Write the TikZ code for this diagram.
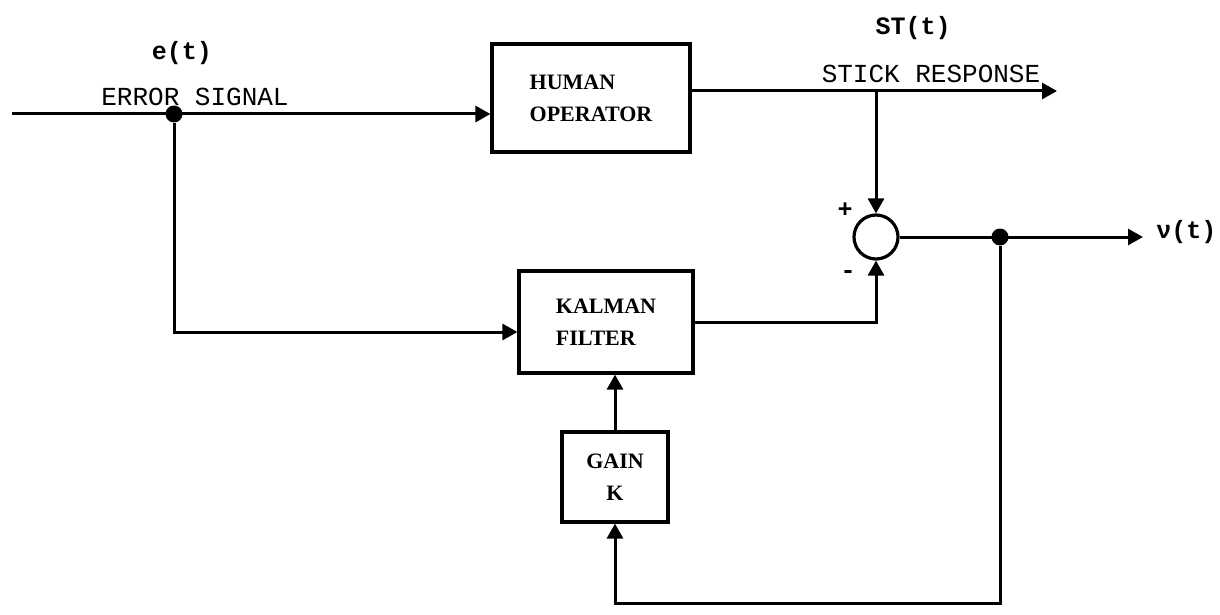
\documentclass[tikz,border=0pt]{standalone}
\usepackage{fontspec}
\setmainfont{Liberation Serif}
\newfontfamily\typefont{Liberation Mono}
\usetikzlibrary{arrows.meta}
\begin{document}
\begin{tikzpicture}[x=0.5pt,y=-0.5pt,
    sig/.style={line width=1.5pt},
    arr/.style={sig,-{Triangle[length=7.5pt,width=8pt]}},
    block/.style={draw,line width=1.6pt,inner sep=0pt,align=left,
        font=\bfseries\fontsize{11}{16}\selectfont},
    dot/.style={circle,fill,inner sep=0pt,minimum size=8.5pt},
    lbl/.style={font=\typefont\fontsize{13}{15}\selectfont,inner sep=0pt},
    var/.style={font=\typefont\bfseries\fontsize{12.5}{14}\selectfont,inner sep=0pt}]
\useasboundingbox (0,0) rectangle (1220,615);
\node[block,minimum width=99pt,minimum height=54pt] (human) at (591,98) {HUMAN\\OPERATOR};
\node[block,minimum width=87pt,minimum height=51pt] (kalman) at (606,322) {KALMAN\\FILTER};
\node[block,align=center,minimum width=53pt,minimum height=45pt] (gain) at (615,477) {GAIN\\K};
\node[circle,draw,line width=1.6pt,inner sep=0pt,minimum size=22pt] (sum) at (876,237) {};
\foreach \n/\p in {edot/{174,114},vdot/{1000,237}}
    \node[dot] (\n) at (\p) {};
\coordinate (in) at (12,114);
\coordinate (stk) at (876,91);
\coordinate (stkend) at (1057,91);
\coordinate (vend) at (1143,237);
\coordinate (kin) at (0,332);
\coordinate (bot) at (0,603);
\draw[arr] (in) -- (human.west |- in);
\draw[arr] (edot) |- (kalman.west |- kin);
\draw[sig] (human.east |- stk) -- (stk);
\draw[arr] (stk) -- (stkend);
\draw[arr] (stk) -- (sum.north);
\draw[arr] (kalman.east) -| (sum.south);
\draw[arr] (sum.east) -- (vend);
\draw[arr] (vdot) |- (gain.south |- bot) -- (gain.south);
\draw[arr] (gain.north) -- (gain.north |- kalman.south);
\node[var] (elbl) at (182,53) {e(t)};
\node[lbl] (errlbl) at (195,97) {ERROR SIGNAL};
\node[var] (stlbl) at (913,28) {ST(t)};
\node[lbl] (stklbl) at (931,74) {STICK RESPONSE};
\node[var,anchor=west] (vlbl) at (1156,232) {ν(t)};
\node[var] (plus) at (845,210) {+};
\node[var] (minus) at (848,275) {-};
\end{tikzpicture}
\end{document}
